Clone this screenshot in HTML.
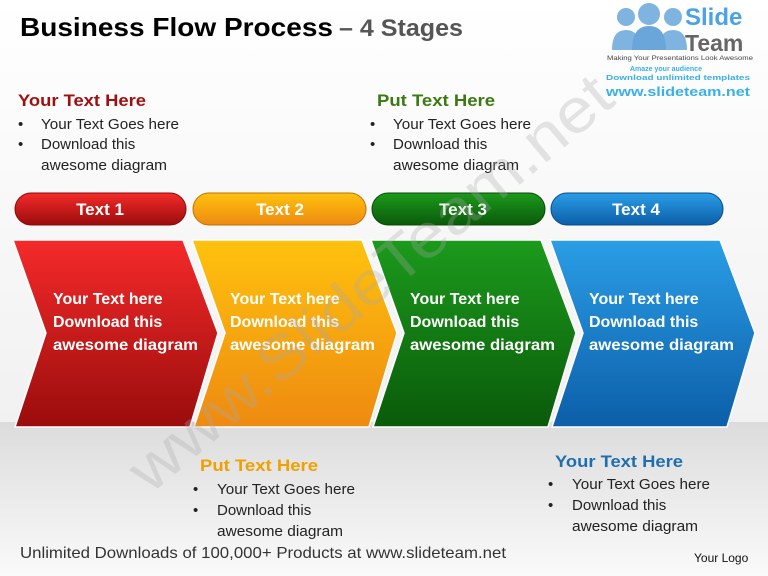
<!DOCTYPE html>
<html><head><meta charset="utf-8"><style>
html,body{margin:0;padding:0;width:768px;height:576px;overflow:hidden;background:#fff}
svg{display:block}
text{font-family:"Liberation Sans",sans-serif}
</style></head><body>
<svg width="768" height="576" viewBox="0 0 768 576" xmlns="http://www.w3.org/2000/svg">
<defs>
<linearGradient id="bg" x1="0" y1="0" x2="0" y2="1"><stop offset="0" stop-color="#dcdcdc"/><stop offset="1" stop-color="#fafafa"/></linearGradient>
<linearGradient id="bgt" x1="0" y1="0" x2="0" y2="1"><stop offset="0" stop-color="#fff"/><stop offset="1" stop-color="#f1f1f1"/></linearGradient>
<linearGradient id="r" x1="0" y1="0" x2="0" y2="1"><stop offset="0" stop-color="#f52a2a"/><stop offset="1" stop-color="#9a0c0c"/></linearGradient>
<linearGradient id="o" x1="0" y1="0" x2="0" y2="1"><stop offset="0" stop-color="#ffc20e"/><stop offset="1" stop-color="#ee8a10"/></linearGradient>
<linearGradient id="g" x1="0" y1="0" x2="0" y2="1"><stop offset="0" stop-color="#1c9a1c"/><stop offset="1" stop-color="#0a5a0a"/></linearGradient>
<linearGradient id="b" x1="0" y1="0" x2="0" y2="1"><stop offset="0" stop-color="#2a9ee6"/><stop offset="1" stop-color="#0c5ea8"/></linearGradient>
</defs>
<rect x="0" y="0" width="768" height="422" fill="url(#bgt)"/>
<rect x="0" y="422" width="768" height="154" fill="url(#bg)"/>

<!-- logo -->
<g fill="#7fb3e0">
<circle cx="626" cy="17" r="9"/><circle cx="673" cy="17" r="9"/><circle cx="649" cy="14" r="11"/>
<path d="M612 50 q0-20 14-20 q14 0 14 20z"/><path d="M659 50 q0-20 14-20 q14 0 14 20z"/>
<path d="M632 50 q0-24 17-24 q17 0 17 24z" fill="#6aa6da"/>
</g>
<text x="685" y="25" font-size="24" font-weight="bold" fill="#4aa3e6">Slide</text>
<text x="685" y="51" font-size="23" font-weight="bold" fill="#666">Team</text>
<text x="607" y="60" font-size="6" fill="#444" textLength="146" lengthAdjust="spacingAndGlyphs">Making Your Presentations Look Awesome</text>
<text x="630" y="71" font-size="7" font-weight="bold" fill="#3ab0e8">Amaze your audience</text>
<text x="606" y="80" font-size="7" font-weight="bold" fill="#3ab0e8" textLength="144" lengthAdjust="spacingAndGlyphs">Download unlimited templates</text>
<text x="606" y="96" font-size="13" font-weight="bold" fill="#3ab0e8" textLength="144" lengthAdjust="spacingAndGlyphs">www.slideteam.net</text>

<!-- title -->
<text x="20" y="36" font-size="26" font-weight="bold" fill="#000" textLength="313" lengthAdjust="spacingAndGlyphs">Business Flow Process</text>
<text x="339" y="36" font-size="24" font-weight="bold" fill="#555" textLength="124" lengthAdjust="spacingAndGlyphs">– 4 Stages</text>

<!-- top texts -->
<g font-size="15" fill="#222">
<text x="18" y="106" font-size="17" font-weight="bold" fill="#a01010" textLength="128" lengthAdjust="spacingAndGlyphs">Your Text Here</text>
<text x="18" y="129">•</text><text x="41" y="129" textLength="138" lengthAdjust="spacingAndGlyphs">Your Text Goes here</text>
<text x="18" y="149">•</text><text x="41" y="149">Download this</text>
<text x="41" y="170" textLength="126" lengthAdjust="spacingAndGlyphs">awesome diagram</text>
<text x="377" y="106" font-size="17" font-weight="bold" fill="#3a7a10" textLength="118" lengthAdjust="spacingAndGlyphs">Put Text Here</text>
<text x="370" y="129">•</text><text x="393" y="129" textLength="138" lengthAdjust="spacingAndGlyphs">Your Text Goes here</text>
<text x="370" y="149">•</text><text x="393" y="149">Download this</text>
<text x="393" y="170" textLength="126" lengthAdjust="spacingAndGlyphs">awesome diagram</text>
</g>

<!-- pills -->
<rect x="15" y="193" width="171" height="32" rx="16" fill="url(#r)" stroke="#8a0a0a" stroke-width="1"/>
<rect x="193" y="193" width="173" height="32" rx="16" fill="url(#o)" stroke="#c07008" stroke-width="1"/>
<rect x="372" y="193" width="173" height="32" rx="16" fill="url(#g)" stroke="#0a4a0a" stroke-width="1"/>
<rect x="551" y="193" width="172" height="32" rx="16" fill="url(#b)" stroke="#0a4a8a" stroke-width="1"/>
<g font-size="17" font-weight="bold" fill="#fff" text-anchor="middle">
<text x="100" y="215">Text 1</text><text x="280" y="215">Text 2</text><text x="463" y="215">Text 3</text><text x="636" y="215">Text 4</text>
</g>

<!-- chevrons -->
<g stroke="#fff" stroke-width="1.5">
<path d="M13 240 L183 240 L218 333 L190 427 L15 427 L46 333 Z" fill="url(#r)"/>
<path d="M192 240 L362 240 L397 333 L369 427 L194 427 L225 333 Z" fill="url(#o)"/>
<path d="M371 240 L541 240 L576 333 L548 427 L373 427 L404 333 Z" fill="url(#g)"/>
<path d="M550 240 L720 240 L755 333 L727 427 L552 427 L583 333 Z" fill="url(#b)"/>
</g>
<g font-size="16" font-weight="bold" fill="#fff">
<text x="53" y="304">Your Text here</text><text x="53" y="327">Download this</text><text x="53" y="350" textLength="145" lengthAdjust="spacingAndGlyphs">awesome diagram</text>
<text x="230" y="304">Your Text here</text><text x="230" y="327">Download this</text><text x="230" y="350" textLength="145" lengthAdjust="spacingAndGlyphs">awesome diagram</text>
<text x="410" y="304">Your Text here</text><text x="410" y="327">Download this</text><text x="410" y="350" textLength="145" lengthAdjust="spacingAndGlyphs">awesome diagram</text>
<text x="589" y="304">Your Text here</text><text x="589" y="327">Download this</text><text x="589" y="350" textLength="145" lengthAdjust="spacingAndGlyphs">awesome diagram</text>
</g>

<!-- watermark -->
<text x="0" y="0" font-size="62" fill="rgba(170,170,170,0.3)" transform="translate(150,495) rotate(-40)" textLength="610" lengthAdjust="spacingAndGlyphs">www.SlideTeam.net</text>

<!-- bottom texts -->
<g font-size="15" fill="#222">
<text x="200" y="471" font-size="17" font-weight="bold" fill="#f0a000" textLength="118" lengthAdjust="spacingAndGlyphs">Put Text Here</text>
<text x="193" y="494">•</text><text x="217" y="494" textLength="138" lengthAdjust="spacingAndGlyphs">Your Text Goes here</text>
<text x="193" y="515">•</text><text x="217" y="515">Download this</text>
<text x="217" y="536" textLength="126" lengthAdjust="spacingAndGlyphs">awesome diagram</text>
<text x="555" y="467" font-size="17" font-weight="bold" fill="#1f6fb0" textLength="128" lengthAdjust="spacingAndGlyphs">Your Text Here</text>
<text x="548" y="489">•</text><text x="572" y="489" textLength="138" lengthAdjust="spacingAndGlyphs">Your Text Goes here</text>
<text x="548" y="510">•</text><text x="572" y="510">Download this</text>
<text x="572" y="531" textLength="126" lengthAdjust="spacingAndGlyphs">awesome diagram</text>
</g>
<text x="20" y="558" font-size="16" fill="#333" textLength="486" lengthAdjust="spacingAndGlyphs">Unlimited Downloads of 100,000+ Products at www.slideteam.net</text>
<text x="694" y="562" font-size="12" fill="#111">Your Logo</text>
</svg>
</body></html>
